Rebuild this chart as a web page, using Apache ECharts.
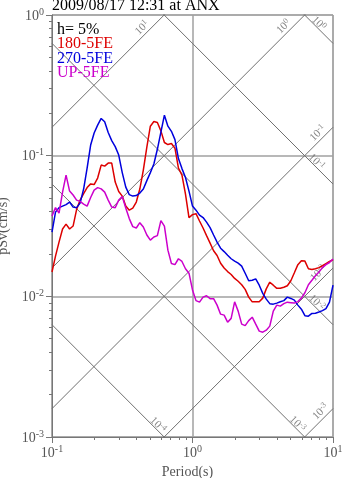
<!DOCTYPE html>
<html><head><meta charset="utf-8">
<script src="https://cdn.jsdelivr.net/npm/echarts@6/dist/echarts.min.js"></script>
<style>html,body{margin:0;padding:0;background:#fff}#c{width:347px;height:478px}</style>
</head><body><div id="c"></div>
<script>
// Period (s)
const periods = [0.1,0.1059,0.1122,0.1189,0.1259,0.1334,0.1413,0.1496,0.1585,0.1679,
0.1778,0.1884,0.1995,0.2113,0.2239,0.2371,0.2512,0.2661,0.2818,0.2985,
0.3162,0.335,0.3548,0.3758,0.3981,0.4217,0.4467,0.4732,0.5012,0.5309,
0.5623,0.5957,0.631,0.6683,0.7079,0.7499,0.7943,0.8414,0.8913,0.9441,
1.0,1.059,1.122,1.189,1.259,1.334,1.413,1.496,1.585,1.679,
1.778,1.884,1.995,2.113,2.239,2.371,2.512,2.661,2.818,2.985,
3.162,3.35,3.548,3.758,3.981,4.217,4.467,4.732,5.012,5.309,
5.623,5.957,6.31,6.683,7.079,7.499,7.943,8.414,8.913,9.441,10];
// pSv (cm/s)
const sv180 = [0.0149,0.0193,0.0243,0.0301,0.0326,0.0301,0.0316,0.0414,0.0483,0.0538,
0.0593,0.0630,0.0623,0.0693,0.0857,0.0843,0.0886,0.0886,0.0649,0.0556,
0.0516,0.0438,0.0410,0.0424,0.0468,0.0579,0.0790,0.115,0.162,0.175,
0.172,0.150,0.124,0.120,0.122,0.113,0.0816,0.0728,0.0533,0.0363,
0.0381,0.0387,0.0343,0.0306,0.0270,0.0239,0.0211,0.0195,0.0172,0.0159,
0.0150,0.0143,0.0134,0.0128,0.0121,0.0112,0.00987,0.00914,0.00914,0.00914,
0.00971,0.0113,0.0126,0.0120,0.0114,0.0114,0.0116,0.0119,0.0129,0.0147,
0.0168,0.0179,0.0178,0.0157,0.0155,0.0157,0.0160,0.0165,0.0171,0.0177,
0.0182];
const sv270 = [0.0286,0.0397,0.0427,0.0438,0.0449,0.0468,0.0431,0.0427,0.0460,0.0579,
0.0816,0.119,0.145,0.165,0.184,0.174,0.146,0.128,0.116,0.101,
0.0758,0.0598,0.0529,0.0516,0.0520,0.0542,0.0579,0.0665,0.0758,0.0872,
0.111,0.147,0.194,0.162,0.149,0.130,0.0954,0.0809,0.0699,0.0560,
0.0438,0.0410,0.0378,0.0363,0.0337,0.0308,0.0273,0.0243,0.0220,0.0208,
0.0196,0.0185,0.0178,0.0172,0.0164,0.0146,0.0129,0.0130,0.0133,0.0120,
0.0105,0.00955,0.00887,0.00880,0.00895,0.00914,0.00932,0.00987,0.00966,0.00940,
0.00866,0.00811,0.00729,0.00723,0.00756,0.00759,0.00774,0.00791,0.00818,0.00909,
0.0120];
const svUP = [0.0372,0.0427,0.0391,0.0551,0.0728,0.0560,0.0525,0.0483,0.0473,0.0453,
0.0438,0.0504,0.0569,0.0593,0.0581,0.0551,0.0483,0.0431,0.0427,0.0483,
0.0512,0.0424,0.0357,0.0313,0.0306,0.0334,0.0311,0.0273,0.0251,0.0264,
0.0270,0.0345,0.0316,0.0213,0.0171,0.0168,0.0185,0.0177,0.0157,0.0146,
0.0111,0.00932,0.00909,0.00987,0.0101,0.00963,0.00963,0.00866,0.00747,0.00735,
0.00655,0.00697,0.00914,0.00785,0.00634,0.00619,0.00672,0.00711,0.00634,0.00566,
0.00556,0.00575,0.00614,0.00785,0.00866,0.00852,0.00887,0.00909,0.00902,0.00895,
0.00917,0.00971,0.0106,0.0121,0.0130,0.0140,0.0149,0.0160,0.0168,0.0174,
0.0184];
const seriesNames = ['180-5FE','270-5FE','UP-5FE'];
const titleText = '2009/08/17 12:31 at ANX';
const dampingText = 'h= 5%';
// tick values
const minorX = [0.2,0.3,0.4,0.5,0.6,0.7,0.8,0.9,2,3,4,5,6,7,8,9];
const minorY = [0.002,0.003,0.004,0.005,0.006,0.007,0.008,0.009,0.02,0.03,0.04,0.05,0.06,0.07,0.08,0.09,0.2,0.3,0.4,0.5,0.6,0.7,0.8,0.9];
// tripartite grid levels
const saLevels = [0.001,0.01,0.1,1,10];      // pseudo-acceleration (cm/s^2)
const sdLevels = [0.0001,0.001,0.01,0.1,1];   // displacement (cm)

const FONT = "'Liberation Serif','Times New Roman',serif";
const colors = ['#dd0000','#0000dd','#cc00cc'];
const TWO_PI = 2*Math.PI;
const svFromSa = (a,t)=>a*t/TWO_PI;
const svFromSd = (d,t)=>TWO_PI*d/t;
const expOf = v=>Math.round(Math.log10(v));
const powLabel = (v)=>'{b|10}{s|'+expOf(v)+'}';

const GRID_W = 281, GRID_H = 422;
const diagStyle = {color:'#707070',width:1};
const diagSeries = [];
saLevels.forEach(a=>diagSeries.push({type:'line',data:[[0.1,svFromSa(a,0.1)],[10,svFromSa(a,10)]],
  showSymbol:false,silent:true,lineStyle:diagStyle,z:1,animation:false}));
sdLevels.forEach(d=>diagSeries.push({type:'line',data:[[0.1,svFromSd(d,0.1)],[10,svFromSd(d,10)]],
  showSymbol:false,silent:true,lineStyle:diagStyle,z:1,animation:false}));

// label anchors along the diagonal lines (period where label sits)
const saLabelAt = {10:0.4726, 1:4.81, 0.1:8.41, 0.01:8.48, 0.001:8.80};
const sdLabelAt = {1:7.55, 0.1:7.27, 0.01:7.29, 0.001:5.32, 0.0001:0.5405};
const richSmall = {b:{fontFamily:FONT,fontSize:11,color:'#666',verticalAlign:'bottom',lineHeight:12},
                   s:{fontFamily:FONT,fontSize:8,color:'#666',verticalAlign:'top',lineHeight:12}};
const labelData = [];
saLevels.forEach(a=>{const t=saLabelAt[a];labelData.push({value:[t,svFromSa(a,t)],lv:a,
  label:{rotate:45,offset:[0,-7]}});});
sdLevels.forEach(d=>{const t=sdLabelAt[d];labelData.push({value:[t,svFromSd(d,t)],lv:d,
  label:{rotate:-45,offset:[0,-4.5]}});});

const curveSeries = [sv180,sv270,svUP].map((arr,i)=>({
  name:seriesNames[i],type:'line',showSymbol:false,z:5,animation:false,
  data:periods.map((t,k)=>[t,arr[k]]),
  lineStyle:{color:colors[i],width:1.5},itemStyle:{color:colors[i]}
}));

const axisRich = {b:{fontFamily:FONT,fontSize:14,color:'#555',verticalAlign:'bottom',lineHeight:16},
                  s:{fontFamily:FONT,fontSize:10,color:'#555',verticalAlign:'top',lineHeight:16}};
const txt = (c)=>({fontFamily:FONT,fontSize:16,fontWeight:'normal',color:c,lineHeight:16});

const chart = echarts.init(document.getElementById('c'),null,{renderer:'canvas'});
chart.setOption({
  animation:false,
  backgroundColor:'#fff',
  title:[
    {text:titleText,left:52,top:-2,padding:0,textStyle:txt('#000')},
    {text:dampingText,left:57,top:21.5,padding:0,textStyle:txt('#000')},
    {text:seriesNames[0],left:57,top:36,padding:0,textStyle:txt(colors[0])},
    {text:seriesNames[1],left:57,top:50.5,padding:0,textStyle:txt(colors[1])},
    {text:seriesNames[2],left:57,top:65,padding:0,textStyle:txt(colors[2])}
  ],
  grid:{left:52,top:15,width:GRID_W,height:GRID_H,show:true,borderColor:'#999',borderWidth:1,
        backgroundColor:'transparent',containLabel:false,outerBoundsMode:'none'},
  xAxis:[
    {type:'log',logBase:10,min:0.1,max:10,position:'bottom',name:'Period(s)',nameLocation:'middle',nameGap:27,
     nameTextStyle:{fontFamily:FONT,fontSize:14,color:'#555',padding:[0,10,0,0]},
     axisLine:{show:true,lineStyle:{color:'#777',width:1}},
     axisTick:{show:true,inside:false,length:6,lineStyle:{color:'#777'}},
     axisLabel:{margin:7,formatter:powLabel,rich:axisRich},
     splitLine:{show:true,lineStyle:{color:'#a0a0a0',width:1.5}}},
    // minor ticks: top-side axis shifted down onto the bottom edge, ticks pointing down
    {type:'log',logBase:10,min:0.1,max:10,gridIndex:0,position:'top',offset:-GRID_H,
     axisLine:{show:false},axisLabel:{show:false},splitLine:{show:false},
     axisTick:{show:true,inside:true,length:3,customValues:minorX,lineStyle:{color:'#777'}}}
  ],
  yAxis:[
    {type:'log',logBase:10,min:0.001,max:1,position:'left',name:'pSv(cm/s)',nameLocation:'middle',nameGap:38,
     nameTextStyle:{fontFamily:FONT,fontSize:14,color:'#555'},
     axisLine:{show:true,lineStyle:{color:'#777',width:1}},
     axisTick:{show:true,inside:false,length:6,lineStyle:{color:'#777'}},
     axisLabel:{margin:8,formatter:powLabel,rich:axisRich},
     splitLine:{show:true,lineStyle:{color:'#a0a0a0',width:1.5}}},
    // minor ticks: right-side axis shifted onto the left edge, ticks pointing left
    {type:'log',logBase:10,min:0.001,max:1,gridIndex:0,position:'right',offset:-GRID_W,
     axisLine:{show:false},axisLabel:{show:false},splitLine:{show:false},
     axisTick:{show:true,inside:true,length:3,customValues:minorY,lineStyle:{color:'#777'}}}
  ],
  series:[...diagSeries,
    {type:'scatter',symbolSize:0,silent:true,z:2,animation:false,data:labelData,
     label:{show:true,position:'inside',align:'center',verticalAlign:'middle',
       formatter:p=>powLabel(p.data.lv),rich:richSmall}},
    ...curveSeries]
});
</script></body></html>
